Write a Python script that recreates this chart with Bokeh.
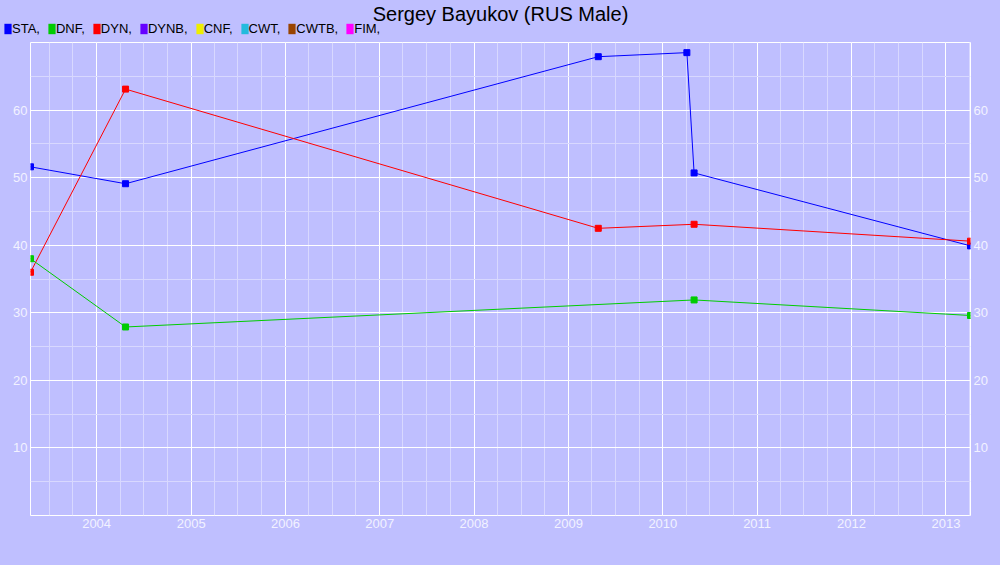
import pandas as pd
from bokeh.plotting import figure
from bokeh.layouts import column, row
from bokeh.models import (Range1d, FixedTicker, DatetimeTickFormatter, LinearAxis,
                          Legend, LegendItem, Label)
from bokeh.embed import file_html
from bokeh.resources import INLINE

# ---- data ----
title_text = "Sergey Bayukov (RUS Male)"
legend_labels = ["STA,", "DNF,", "DYN,", "DYNB,", "CNF,", "CWT,", "CWTB,", "FIM,"]
legend_colors = ["#0000FF", "#00CC00", "#FF0000", "#6600FF", "#EEEE00", "#22BBDD", "#994400", "#FF00FF"]

sta_dates = ["2003-04-20", "2004-04-22", "2009-04-26", "2010-04-04", "2010-05-02", "2013-04-06"]
sta_vals = [51.6, 49.1, 67.9, 68.5, 50.7, 39.9]
dyn_dates = ["2003-04-20", "2004-04-22", "2009-04-26", "2010-05-02", "2013-04-06"]
dyn_vals = [36.0, 63.1, 42.5, 43.1, 40.6]
dnf_dates = ["2003-04-20", "2004-04-22", "2010-05-02", "2013-04-06"]
dnf_vals = [38.0, 27.9, 31.9, 29.6]

year_ticks = [str(y) for y in range(2004, 2014)]
y_ticks = [10, 20, 30, 40, 50, 60]
y_minor = [5, 15, 25, 35, 45, 55, 65]

BG = "#BFBFFF"
FONT = "Liberation Sans"
LABEL_COLOR = "#F2F2FF"
W = 1000
HEADER_H = 41
MAIN_H = 524

sta_x = pd.to_datetime(sta_dates)
dyn_x = pd.to_datetime(dyn_dates)
dnf_x = pd.to_datetime(dnf_dates)

def ms(ts):
    return pd.Timestamp(ts).value / 1e6

# ---------------- header (title + legend) ----------------
header = figure(width=W, height=HEADER_H, x_range=Range1d(0, W), y_range=Range1d(0, HEADER_H),
                x_axis_location=None, y_axis_location=None,
                output_backend="svg", toolbar_location=None, min_border=0)
header.min_border_left = 0
header.min_border_right = 0
header.min_border_top = 0
header.min_border_bottom = 0
header.background_fill_color = BG
header.border_fill_color = BG
header.outline_line_color = None
header.grid.visible = False
if "frame_align" in header.properties():
    header.frame_align = False

items = []
for lab, col in zip(legend_labels, legend_colors):
    # swatch renderer: one dummy box far outside the visible header range
    r = header.quad(left=[-200], right=[-190], top=[-200], bottom=[-190],
                    fill_color=col, line_color=None)
    items.append(LegendItem(label=lab, renderers=[r]))
legend = Legend(items=items, orientation="horizontal", location=(3, 5),
                glyph_width=9, glyph_height=13, label_standoff=0, spacing=7,
                padding=0, margin=0, border_line_color=None, background_fill_alpha=0,
                label_text_font=FONT, label_text_font_size="13px", label_text_color="black",
                label_height=13, label_width=10)
header.add_layout(legend, "center")

header.add_layout(Label(x=W / 2, y=28, x_units="screen", y_units="screen", text=title_text,
                        text_align="center", text_baseline="middle",
                        text_font=FONT, text_font_size="20px", text_color="black"))

# ---------------- main plot ----------------
x_start = min(sta_x.min(), dyn_x.min(), dnf_x.min())
x_end = max(sta_x.max(), dyn_x.max(), dnf_x.max())

p = figure(width=W, height=MAIN_H, x_axis_type="datetime",
           x_range=Range1d(x_start, x_end), y_range=Range1d(0, 70),
           output_backend="svg", toolbar_location=None,
           min_border_left=30, min_border_right=30, min_border_top=1, min_border_bottom=50)
p.background_fill_color = BG
p.border_fill_color = BG
p.outline_line_color = "white"
p.outline_line_width = 1
if "frame_align" in p.properties():
    p.frame_align = False

major_x = [ms(y + "-01-01") for y in year_ticks]
minor_x = []
for y in range(2003, 2014):
    for m in ("01", "04", "07", "10"):
        minor_x.append(ms(f"{y}-{m}-01"))
p.xaxis.ticker = FixedTicker(ticks=major_x, minor_ticks=minor_x)
p.xaxis.formatter = DatetimeTickFormatter(years="%Y", months="%Y", days="%Y")

p.yaxis.ticker = FixedTicker(ticks=y_ticks, minor_ticks=y_minor)
raxis = LinearAxis(ticker=FixedTicker(ticks=y_ticks, minor_ticks=y_minor))
p.add_layout(raxis, "right")

for ax in p.axis:
    ax.axis_line_color = None
    ax.major_tick_line_color = None
    ax.minor_tick_line_color = None
    ax.major_tick_out = 0
    ax.major_tick_in = 0
    ax.minor_tick_out = 0
    ax.minor_tick_in = 0
    ax.major_label_text_font = FONT
    ax.major_label_text_font_size = "13px"
    ax.major_label_text_color = LABEL_COLOR
    ax.major_label_standoff = 3

for g in (p.xgrid[0], p.ygrid[0]):
    g.grid_line_color = "white"
    g.grid_line_width = 1
    g.minor_grid_line_color = "#D8D8FF"
    g.minor_grid_line_width = 1

p.line(sta_x, sta_vals, line_color=legend_colors[0], line_width=1)
p.scatter(sta_x, sta_vals, marker="square", size=6, color=legend_colors[0])
p.line(dyn_x, dyn_vals, line_color=legend_colors[2], line_width=1)
p.scatter(dyn_x, dyn_vals, marker="square", size=6, color=legend_colors[2])
p.line(dnf_x, dnf_vals, line_color=legend_colors[1], line_width=1)
p.scatter(dnf_x, dnf_vals, marker="square", size=6, color=legend_colors[1])

layout = column(row(header), p, spacing=0)

html = file_html(layout, INLINE).replace("<body>", '<body style="background-color:%s;">' % BG)
open("out.html", "w").write(html)
